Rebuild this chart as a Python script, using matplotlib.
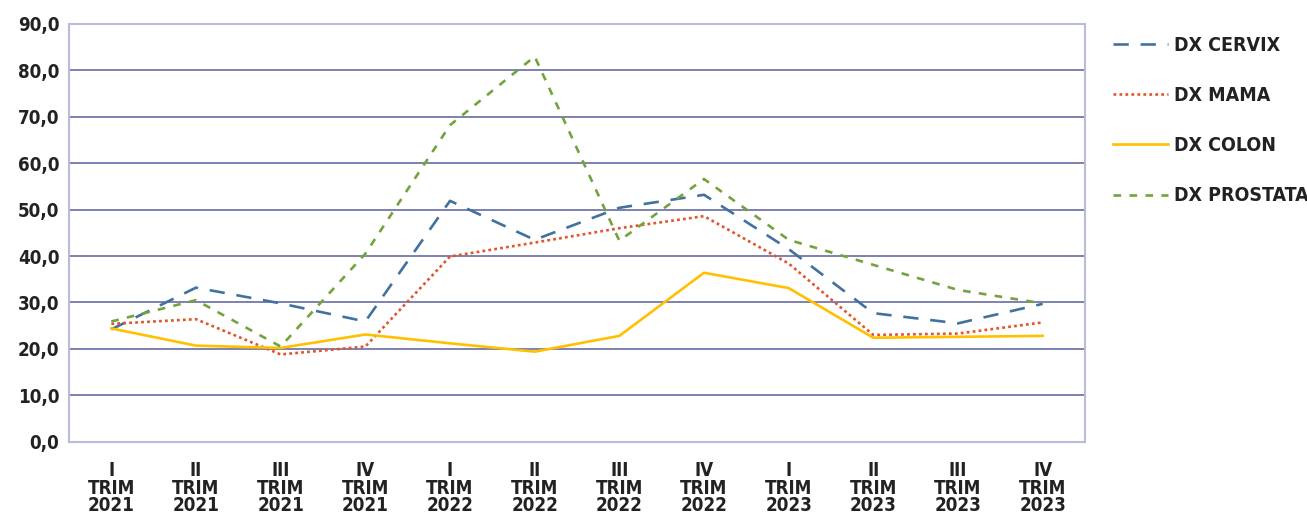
import matplotlib
matplotlib.use("Agg")
import matplotlib.pyplot as plt

plt.rcParams['lines.scale_dashes'] = False
plt.rcParams['font.family'] = ['DejaVu Sans']
plt.rcParams['font.stretch'] = 'condensed'

categories = ["I\nTRIM\n2021", "II\nTRIM\n2021", "III\nTRIM\n2021", "IV\nTRIM\n2021",
              "I\nTRIM\n2022", "II\nTRIM\n2022", "III\nTRIM\n2022", "IV\nTRIM\n2022",
              "I\nTRIM\n2023", "II\nTRIM\n2023", "III\nTRIM\n2023", "IV\nTRIM\n2023"]
cervix   = [24.2, 33.2, 29.8, 25.9, 51.9, 43.5, 50.4, 53.2, 41.5, 27.7, 25.5, 29.7]
mama     = [25.4, 26.4, 18.8, 20.5, 39.9, 42.9, 46.0, 48.6, 38.4, 23.0, 23.3, 25.7]
colon    = [24.4, 20.7, 20.2, 23.1, 21.2, 19.4, 22.8, 36.4, 33.1, 22.4, 22.6, 22.8]
prostata = [25.9, 30.5, 20.5, 40.5, 68.2, 83.0, 43.3, 56.6, 43.5, 38.1, 32.7, 29.8]
yticks = [0, 10, 20, 30, 40, 50, 60, 70, 80, 90]
ytick_labels = ["0,0", "10,0", "20,0", "30,0", "40,0", "50,0", "60,0", "70,0", "80,0", "90,0"]

fig = plt.figure(figsize=(13.07, 5.15), dpi=100)
ax = fig.add_axes([69/1307, 1-441.7/515, (1085-69)/1307, (441.7-24)/515])

x = list(range(len(categories)))
lw = 1.9
ax.plot(x, cervix, color="#41729F", lw=lw, dashes=(11, 8.5), label="DX CERVIX")
ax.plot(x, mama, color="#E2542B", lw=lw, dashes=(2.0, 2.3), label="DX MAMA")
ax.plot(x, colon, color="#FFC000", lw=lw, label="DX COLON")
ax.plot(x, prostata, color="#73A33C", lw=lw, dashes=(5.5, 6), label="DX PROSTATA")

ax.set_xlim(-0.5, len(categories) - 0.5)
ax.set_ylim(0, 90)
ax.set_yticks(yticks)
ax.set_yticklabels(ytick_labels)
ax.set_xticks(x)
ax.set_xticklabels(categories, linespacing=0.9)
ax.yaxis.grid(True, color="#5A5F9C", lw=1.1)
ax.set_axisbelow(True)
for s in ax.spines.values():
    s.set_color("#B8BCD8")
    s.set_linewidth(1.5)
ax.tick_params(axis='both', length=0, labelsize=13.5, colors="#222222")
ax.tick_params(axis='y', pad=7)
ax.tick_params(axis='x', pad=14)
for t in ax.get_xticklabels() + ax.get_yticklabels():
    t.set_fontweight('bold')
    t.set_fontstretch('condensed')

leg = ax.legend(loc='upper left', bbox_to_anchor=(1113/1307, 1-36/515),
                bbox_transform=fig.transFigure, frameon=False,
                borderpad=0, borderaxespad=0,
                handlelength=2.85, handletextpad=0.3, labelspacing=1.6,
                prop={'weight': 'bold', 'size': 14, 'stretch': 'condensed'})
for t in leg.get_texts():
    t.set_color("#222222")

fig.savefig("out.png", dpi=100)
